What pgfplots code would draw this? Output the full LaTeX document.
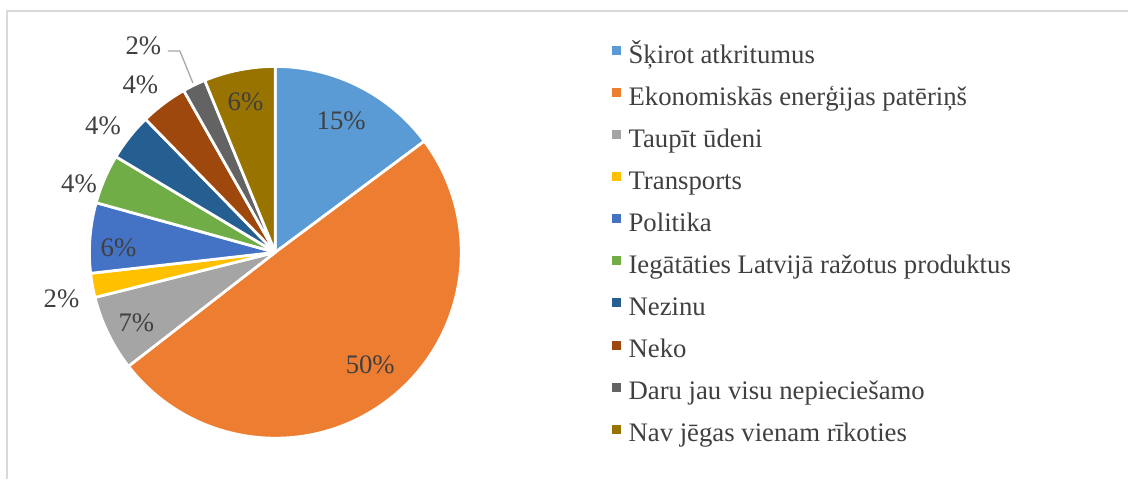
\documentclass[border=0pt]{standalone}
\usepackage{fontspec}
\setmainfont{Liberation Serif}
\usepackage{pgfplots}
\usepackage{pgfplotstable}
\pgfplotsset{compat=1.18}
\definecolor{c1}{HTML}{5B9BD5}
\definecolor{c2}{HTML}{ED7D31}
\definecolor{c3}{HTML}{A5A5A5}
\definecolor{c4}{HTML}{FFC000}
\definecolor{c5}{HTML}{4472C4}
\definecolor{c6}{HTML}{70AD47}
\definecolor{c7}{HTML}{255E91}
\definecolor{c8}{HTML}{9E480E}
\definecolor{c9}{HTML}{636363}
\definecolor{c10}{HTML}{997300}
\definecolor{txt}{HTML}{404040}
\definecolor{framec}{HTML}{D9D9D9}
\definecolor{leader}{HTML}{A6A6A6}
\newcommand\labfont{\fontsize{10.7}{12.8}\selectfont}

% name, share (%), colour, label radius (px), label angle offset (deg)
\pgfplotstableread[col sep=comma]{
name,value,color,lr,la
Šķirot atkritumus,14.8,c1,147,0
Ekonomiskās enerģijas patēriņš,49.7,c2,147,3
Taupīt ūdeni,6.6,c3,156,1
Transports,2.1,c4,219,2
Politika,6.1,c5,157,3
Iegātāties Latvijā ražotus produktus,4.3,c6,208,4
Nezinu,4.1,c7,214,2
Neko,4.1,c8,215,2
Daru jau visu nepieciešamo,2.0,c9,245,6.7
Nav jēgas vienam rīkoties,6.2,c10,154,0
}\piedata

\begin{document}
\begin{tikzpicture}
\begin{axis}[
  scale only axis, width=451.6pt, height=191.6pt,
  xmin=0, xmax=1129, ymin=0, ymax=479,
  hide axis, clip=false,
  legend cell align=left,
  legend image code/.code={\fill[#1] (0pt,1pt) rectangle (3.2pt,4.2pt);},
  legend style={at={(axis cs:612,435.7)}, anchor=north west,
    draw=none, fill=none, inner sep=0pt, outer sep=0pt,
    row sep=5.84pt, column sep=3.2pt, font=\labfont, text=txt,
    nodes={inner sep=0pt, text height=8pt, text depth=3pt}},
]
\path (axis cs:0,0) (axis cs:1129,479);
\draw[framec, line width=0.6pt] (axis cs:7,0) -- (axis cs:7,468) -- (axis cs:1129,468);
\def\cum{90}
\pgfplotsforeachungrouped \i in {0,...,9}{%
  \pgfplotstablegetelem{\i}{value}\of\piedata \let\val\pgfplotsretval
  \pgfplotstablegetelem{\i}{color}\of\piedata \let\col\pgfplotsretval
  \pgfplotstablegetelem{\i}{lr}\of\piedata \let\lr\pgfplotsretval
  \pgfplotstablegetelem{\i}{la}\of\piedata \let\la\pgfplotsretval
  \pgfplotstablegetelem{\i}{name}\of\piedata \let\lab\pgfplotsretval
  \pgfmathsetmacro\endang{\cum-3.6*\val}
  \pgfmathsetmacro\midang{(\cum+\endang)/2+\la}
  \pgfmathsetmacro\lx{275.5+\lr*cos(\midang)}
  \pgfmathsetmacro\ly{226.5+\lr*sin(\midang)}
  \pgfmathtruncatemacro\pct{round(\val)}
  \edef\temp{\noexpand\fill[\col, draw=white, line width=1.1pt, line join=round]
    (axis cs:275.5,226.5) -- ++(\cum:74.4pt)
    arc[start angle=\cum, end angle=\endang, radius=74.4pt] -- cycle;
    \noexpand\node[text=txt, font=\noexpand\labfont, inner sep=0pt]
    at (axis cs:\lx,\ly) {\pct\noexpand\%};}%
  \temp
  \edef\temp{\noexpand\addlegendimage{\col}}\temp
  \expandafter\addlegendentry\expandafter{\lab}%
  \let\cum\endang
}
\draw[leader, line width=0.5pt] (axis cs:168,428) -- (axis cs:180,428) -- (axis cs:193,396);
\end{axis}
\end{tikzpicture}
\end{document}
